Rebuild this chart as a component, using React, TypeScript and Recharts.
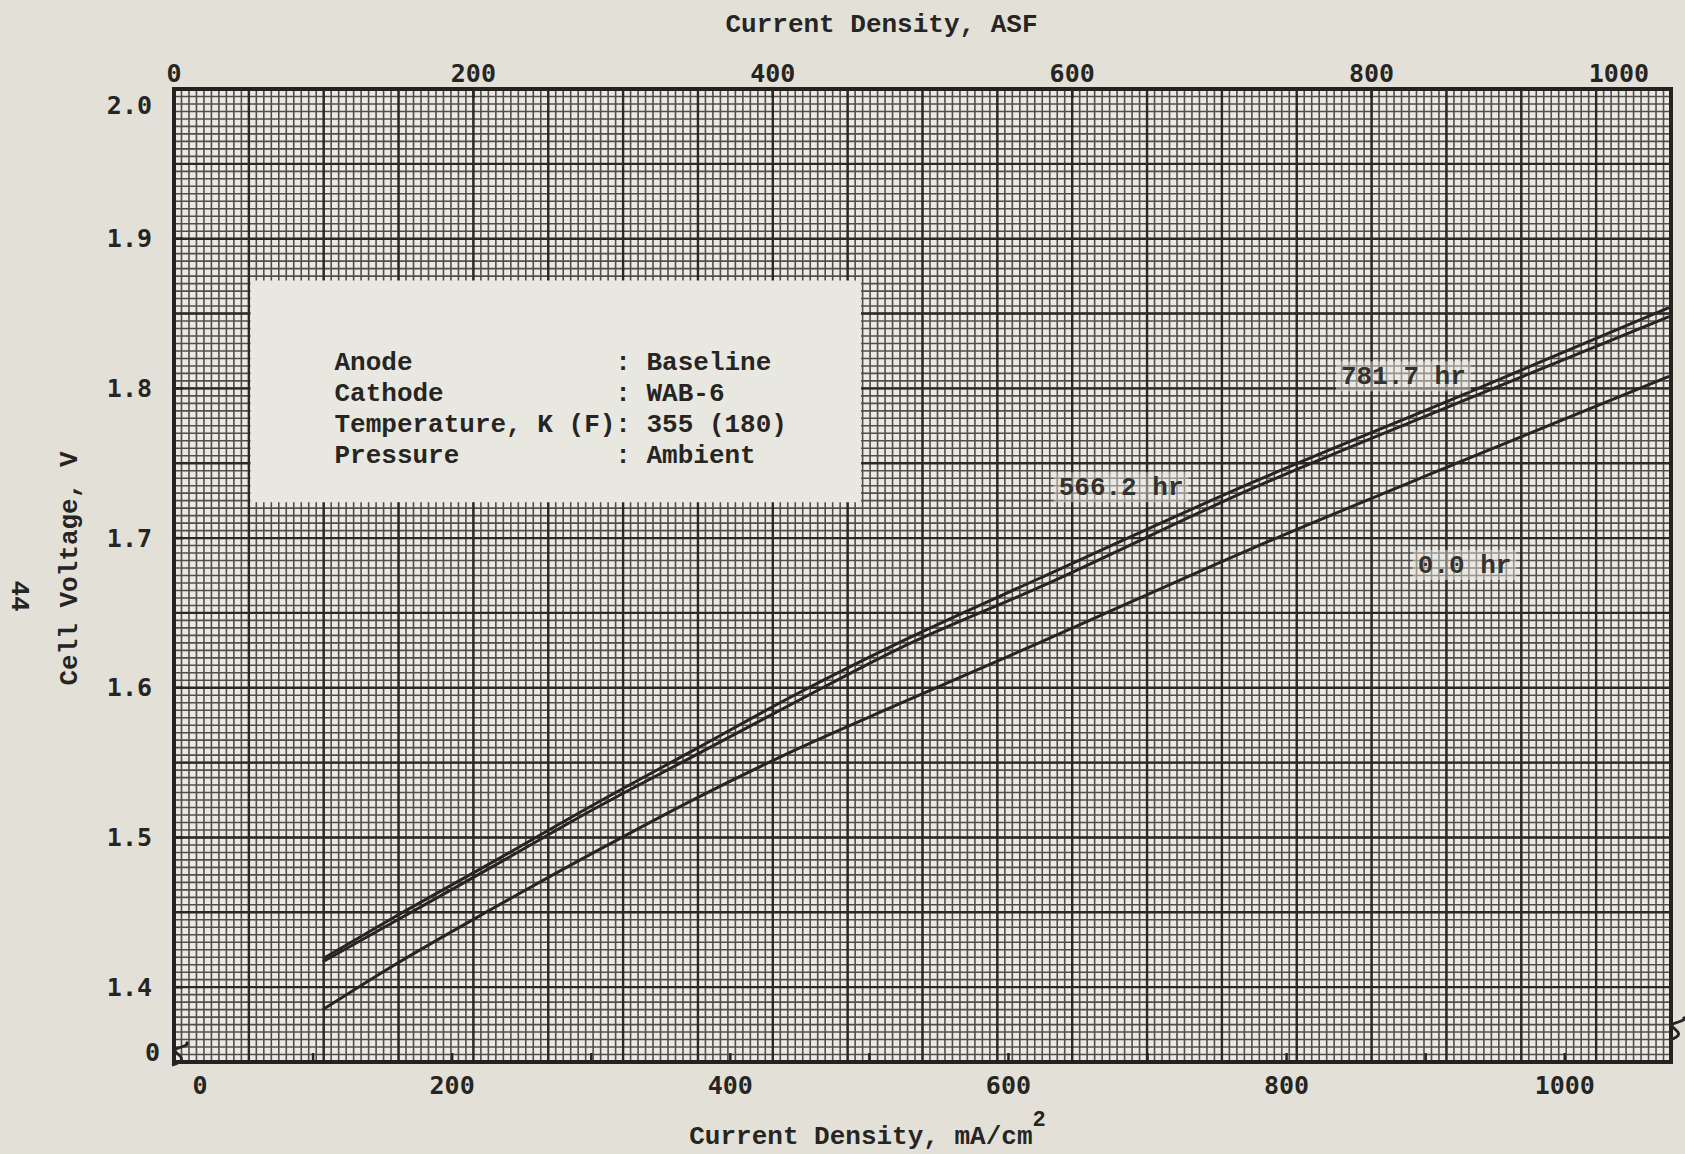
import React from 'react';
import {
  LineChart,
  Line,
  XAxis,
  YAxis,
  CartesianGrid,
  ReferenceArea,
  ReferenceDot,
} from 'recharts';

// values: current density in mA/cm2, cell voltage in V
const currentDensity = [107, 157, 230, 302, 375, 448, 521, 622, 775, 925, 1075];
const voltage0hr = [1.385, 1.414, 1.453, 1.49, 1.526, 1.559, 1.589, 1.63, 1.693, 1.751, 1.808];
const voltage566hr = [1.417, 1.443, 1.481, 1.519, 1.555, 1.591, 1.626, 1.667, 1.733, 1.791, 1.848];
const voltage781hr = [1.419, 1.446, 1.484, 1.522, 1.559, 1.596, 1.63, 1.673, 1.737, 1.795, 1.854];

const maTicks = [0, 100, 200, 300, 400, 500, 600, 700, 800, 900, 1000];
const asfTicks = [0, 200, 400, 600, 800, 1000];
const voltTicks = [1.35, 1.4, 1.5, 1.6, 1.7, 1.8, 1.9, 2.0];

const conditions = [
  ['Anode', 'Baseline'],
  ['Cathode', 'WAB-6'],
  ['Temperature, K (F)', '355 (180)'],
  ['Pressure', 'Ambient'],
];

const MA_PER_ASF = 1.0764;
const MA_MAX = 1000 * MA_PER_ASF;

// graph paper rulings: every 5 ASF / 0.005 V, heavier every 50 ASF / 0.05 V
const minorX = Array.from({ length: 201 }, (_, i) => i * 5 * MA_PER_ASF);
const majorX = Array.from({ length: 21 }, (_, i) => i * 50 * MA_PER_ASF);
const minorVolt = Array.from({ length: 131 }, (_, i) => +(1.35 + i * 0.005).toFixed(3));
const majorVolt = Array.from({ length: 14 }, (_, i) => +(1.35 + i * 0.05).toFixed(2));

const rows = currentDensity.map((ma, i) => ({
  ma,
  v0: voltage0hr[i],
  v566: voltage566hr[i],
  v781: voltage781hr[i],
}));

const INK = '#262523';
const PAPER = '#e3e1d7';
const PAPER_IN = '#ebe9e2';
const TYPE = '"Liberation Mono", monospace';
const DIGITS = '"DejaVu Sans Mono", monospace';

function TopTick(props: any) {
  const { x, y, payload } = props;
  const edge = y + 7;
  const asf = Math.round(payload.value / MA_PER_ASF);
  const last = asf === 1000;
  return (
    <g>
      {asf > 0 && !last && (
        <line x1={x} x2={x} y1={edge} y2={edge + 9} stroke={INK} strokeWidth={2.5} />
      )}
      <text
        x={last ? x - 22 : x}
        y={edge - 7}
        textAnchor={last ? 'end' : 'middle'}
        fontFamily={DIGITS}
        fontWeight={700}
        fontSize={25}
        fill={INK}
      >
        {asf}
      </text>
    </g>
  );
}

function BottomTick(props: any) {
  const { x, y, payload } = props;
  const edge = y - 10;
  const v = payload.value;
  return (
    <g>
      {v > 0 && <line x1={x} x2={x} y1={edge} y2={edge - 9} stroke={INK} strokeWidth={2.5} />}
      {v % 200 === 0 && (
        <text
          x={v === 0 ? x + 26 : x}
          y={edge + 32}
          textAnchor="middle"
          fontFamily={DIGITS}
          fontWeight={700}
          fontSize={25}
          fill={INK}
        >
          {v}
        </text>
      )}
    </g>
  );
}

function LeftTick(props: any) {
  const { x, y, payload } = props;
  const edge = x + 22;
  const v = payload.value;
  const isBreak = v === 1.35;
  const dy = v === 2.0 ? 16 : isBreak ? -10 : 0;
  return (
    <g>
      {!isBreak && v !== 2.0 && (
        <line x1={edge} x2={edge + 9} y1={y} y2={y} stroke={INK} strokeWidth={2.5} />
      )}
      <text
        x={isBreak ? x + 8 : x}
        y={y + 8.5 + dy}
        textAnchor="end"
        fontFamily={DIGITS}
        fontWeight={700}
        fontSize={25}
        fill={INK}
      >
        {isBreak ? '0' : v.toFixed(1)}
      </text>
    </g>
  );
}

const titleStyle = { fontFamily: TYPE, fontWeight: 700, fontSize: 26, fill: INK };

const TopTitle = (props: any) => {
  const vb = props.viewBox;
  return (
    <text x={vb.x + vb.width / 2 - 41} y={vb.y + 32} textAnchor="middle" {...titleStyle}>
      Current Density, ASF
    </text>
  );
};

const BottomTitle = (props: any) => {
  const vb = props.viewBox;
  return (
    <text x={vb.x + vb.width / 2 - 55} y={vb.y + 82} textAnchor="middle" {...titleStyle}>
      Current Density, mA/cm
      <tspan dy={-18} fontSize={22}>
        2
      </tspan>
    </text>
  );
};

const VoltTitle = (props: any) => {
  const vb = props.viewBox;
  const cx = 70;
  const cy = vb.y + vb.height / 2 - 7;
  return (
    <g>
      <text
        x={cx}
        y={cy}
        transform={`rotate(-90 ${cx} ${cy})`}
        textAnchor="middle"
        dominantBaseline="central"
        {...titleStyle}
      >
        Cell Voltage, V
      </text>
      <text
        x={19}
        y={596}
        transform="rotate(90 19 596)"
        textAnchor="middle"
        dominantBaseline="central"
        {...titleStyle}
      >
        44
      </text>
    </g>
  );
};

const ConditionsBox = (props: any) => {
  const vb = props.viewBox;
  const cw = 15.6;
  const x0 = vb.x + 84;
  return (
    <g>
      {conditions.map(([name, value], i) => {
        const y = vb.y + 89 + i * 31;
        return (
          <g key={name}>
            <text x={x0} y={y} {...titleStyle}>{name}</text>
            <text x={x0 + 18 * cw} y={y} {...titleStyle}>:</text>
            <text x={x0 + 20 * cw} y={y} {...titleStyle}>{value}</text>
          </g>
        );
      })}
    </g>
  );
};

const curveLabel = (text: string) => (props: any) => {
  const vb = props.viewBox;
  const cx = vb.x + vb.width / 2;
  const cy = vb.y + vb.height / 2;
  const w = text.length * 15.6 + 10;
  return (
    <g>
      <rect x={cx - w / 2} y={cy - 15} width={w} height={30} fill={PAPER_IN} fillOpacity={0.45} />
      <text x={cx} y={cy + 8} textAnchor="middle" {...titleStyle} fill="#33322f">
        {text}
      </text>
    </g>
  );
};

const BreakMark = (props: any) => {
  const { cx, cy } = props;
  return (
    <path
      d={`M ${cx - 2} ${cy + 11} C ${cx + 22} ${cy + 4}, ${cx - 8} ${cy - 2}, ${cx + 4} ${cy - 6} S ${cx + 14} ${cy - 10}, ${cx + 12} ${cy - 12}`}
      fill="none"
      stroke={INK}
      strokeWidth={2.8}
    />
  );
};

export default function App() {
  return (
    <div style={{ position: 'absolute', left: 0, top: 0, width: 1685, height: 1154, background: PAPER }}>
      <LineChart width={1685} height={1154} data={rows} margin={{ top: 0, right: 14, bottom: 0, left: 0 }}>
        <CartesianGrid
          xAxisId="ma"
          yAxisId="v"
          verticalValues={minorX}
          horizontalValues={minorVolt}
          stroke="#4f4e4a"
          strokeWidth={1.6}
          fill={PAPER_IN}
        />
        <CartesianGrid
          xAxisId="ma"
          yAxisId="v"
          verticalValues={majorX}
          horizontalValues={majorVolt}
          stroke="#2a2927"
          strokeWidth={2.4}
        />
        <XAxis
          xAxisId="ma"
          dataKey="ma"
          type="number"
          orientation="bottom"
          domain={[0, MA_MAX]}
          ticks={maTicks}
          interval={0}
          allowDataOverflow
          height={92}
          axisLine={false}
          tickLine={false}
          tickSize={0}
          tickMargin={10}
          tick={<BottomTick />}
          label={BottomTitle}
        />
        <XAxis
          xAxisId="top"
          dataKey="ma"
          type="number"
          orientation="top"
          domain={[0, MA_MAX]}
          ticks={asfTicks.map((a) => a * MA_PER_ASF)}
          interval={0}
          allowDataOverflow
          height={89}
          axisLine={false}
          tickLine={false}
          tickSize={0}
          tickMargin={7}
          tick={<TopTick />}
          label={TopTitle}
        />
        <YAxis
          yAxisId="v"
          type="number"
          domain={[1.35, 2.0]}
          ticks={voltTicks}
          interval={0}
          allowDataOverflow
          width={174}
          axisLine={false}
          tickLine={false}
          tickSize={0}
          tickMargin={22}
          tick={<LeftTick />}
          label={VoltTitle}
        />
        <ReferenceArea
          xAxisId="ma"
          yAxisId="v"
          x1={55}
          x2={494}
          y1={1.724}
          y2={1.872}
          fill="#e9e8e0"
          fillOpacity={1}
          stroke="none"
          label={ConditionsBox}
        />
        <ReferenceArea
          xAxisId="ma"
          yAxisId="v"
          x1={0}
          x2={MA_MAX}
          y1={1.35}
          y2={2.0}
          fill="none"
          stroke="#232220"
          strokeWidth={4}
        />
        <Line xAxisId="ma" yAxisId="v" dataKey="v0" type="monotone" stroke={INK} strokeWidth={3} dot={false} isAnimationActive={false} />
        <Line xAxisId="ma" yAxisId="v" dataKey="v566" type="monotone" stroke={INK} strokeWidth={3} dot={false} isAnimationActive={false} />
        <Line xAxisId="top" yAxisId="v" dataKey="v781" type="monotone" stroke={INK} strokeWidth={3} dot={false} isAnimationActive={false} />
        <ReferenceDot xAxisId="ma" yAxisId="v" x={884} y={1.808} r={0} fill="none" stroke="none" label={curveLabel('781.7 hr')} />
        <ReferenceDot xAxisId="ma" yAxisId="v" x={681} y={1.734} r={0} fill="none" stroke="none" label={curveLabel('566.2 hr')} />
        <ReferenceDot xAxisId="ma" yAxisId="v" x={928} y={1.682} r={0} fill="none" stroke="none" label={curveLabel('0.0 hr')} />
        <ReferenceDot xAxisId="ma" yAxisId="v" x={0} y={1.3553} r={1} shape={BreakMark} />
        <ReferenceDot xAxisId="ma" yAxisId="v" x={MA_MAX} y={1.372} r={1} shape={BreakMark} ifOverflow="visible" />
      </LineChart>
    </div>
  );
}
